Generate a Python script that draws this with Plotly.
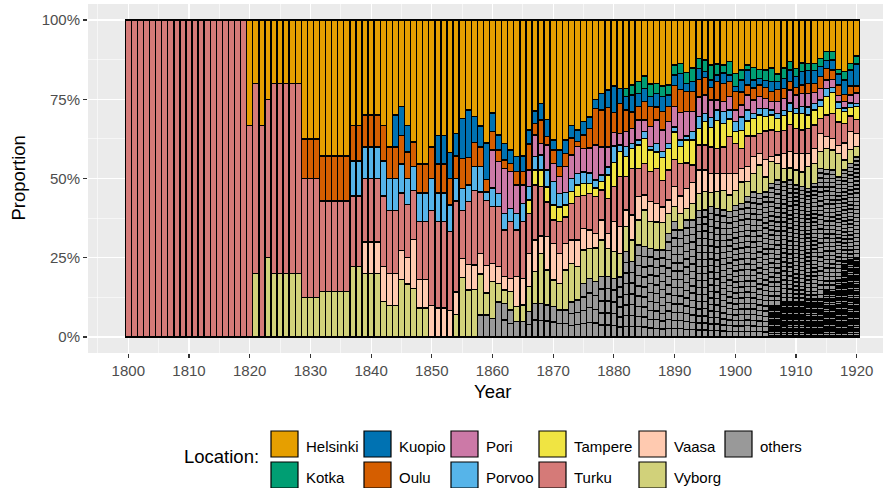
import plotly.graph_objects as go

years = list(range(1800, 1921))

# ---- shares (percent) per year ----
helsinki = [0]*20 + [33.3, 20, 33.3, 25, 20, 20, 20, 20, 20, 37.5, 37.5, 37.5, 42.9, 42.9, 42.9, 42.9, 42.9,
                     33.3, 33.3, 30, 30, 30, 33.3, 40, 30, 27.3, 33.3, 38.5, 45.5, 45.5, 40, 36.4, 36.4, 41.7,
                     35.7, 31, 28.4, 30.5] + \
    [33.4, 38.7, 29.4, 36.3, 38.9, 41.0, 43.1, 42.9, 34.7, 28.7, 26.3, 31.3, 37.9, 41.0, 37.9, 33.4, 34.7, 32.1,
     30.7, 25.0, 23.1, 22.1, 20.8, 21.6, 21.6, 20.5, 19.5, 17.7, 20.2, 20.0, 20.8, 20.5] + \
    [14.2, 13.7, 16.6, 15.2, 12.1, 12.6, 14.2, 13.9, 14.2, 13.1, 16.8, 15.8, 14.2, 15.0, 15.6, 15.8, 15.2, 17.0,
     15.2, 13.1, 15.2, 13.5, 13.7, 13.7, 12.1, 10.0, 10.0, 15.6, 16.3, 13.7, 11.4]

kotka = [0]*20 + [0]*38 + [0]*24 + [2.6, 3.2, 3.7, 3.9, 4.0, 3.2, 3.4, 3.2] + \
    [3.2, 3.2, 3.4, 4.2, 3.2, 3.7, 4.7, 3.5, 2.6, 4.2, 4.2, 3.2, 1.6, 3.9, 2.8, 3.2, 4.2, 2.4, 3.2, 2.6, 2.6,
     2.8, 2.3, 2.3, 2.6, 2.8, 2.6, 1.5, 2.6, 2.1, 2.5]

kuopio = [0]*20 + [0]*24 + [10, 9.1, 8.3, 0, 0, 0, 0, 9.1, 9.1, 8.3, 7.1, 12.6, 14.9, 8.2] + \
    [6.6, 11.5, 5.8, 4.7, 5.3, 4.2, 4.7, 4.9, 4.4, 3.9, 5.3, 5.5, 3.2, 5.3, 4.2, 3.9, 3.7, 4.2, 3.5, 2.8, 5.3,
     5.5, 8.4, 4.7, 4.2, 5.3, 4.2, 4.2, 3.2, 4.2, 4.7, 3.5] + \
    [3.2, 5.0, 2.6, 3.2, 3.5, 1.8, 2.3, 2.1, 3.2, 2.1, 1.6, 3.7, 4.7, 2.6, 2.1, 2.3, 3.2, 2.6, 3.2, 3.7, 3.4,
     4.2, 4.0, 4.0, 3.2, 2.4, 3.2, 3.5, 4.7, 5.0, 6.9]

oulu = [0]*20 + [0]*9 + [12.5]*3 + [14.3]*5 + [11.1]*2 + [10]*3 + \
    [11.1, 10, 10, 9.1, 8.3, 7.7, 9.1, 9.1, 10, 9.1, 9.1, 8.3, 7.1, 9.5, 8.8, 7.6] + \
    [6.3, 4.0, 5.8, 3.7, 2.6, 2.6, 4.2, 4.2, 8.2, 3.7, 7.4, 2.6, 4.2, 3.2, 4.2, 5.3, 1.6, 4.2, 6.3, 11.6, 11.6,
     12.4, 6.3, 9.5, 6.8, 5.3, 4.2, 5.8, 6.3, 4.2, 5.8, 4.9] + \
    [6.6, 7.4, 6.3, 6.3, 5.5, 5.6, 4.0, 5.8, 5.8, 4.7, 5.8, 4.2, 3.2, 3.7, 3.7, 3.5, 3.2, 3.7, 3.2, 2.6, 2.4,
     2.6, 3.2, 2.9, 3.7, 3.7, 2.9, 3.2, 2.1, 2.8, 2.3]

pori = [0]*20 + [0]*38 + \
    [0, 0, 12.1, 10.0, 14.2, 11.6, 8.9, 5.8, 5.3, 6.8, 3.7, 7.9, 5.8, 5.3, 8.2, 7.4, 8.4, 7.4, 7.9, 11.0, 8.9,
     6.3, 4.2, 3.7, 4.7, 4.7, 6.3, 3.7, 6.3, 7.4, 6.8, 6.8] + \
    [6.5, 8.6, 7.7, 6.3, 6.3, 5.8, 5.5, 3.2, 3.2, 4.2, 3.7, 3.7, 4.7, 4.2, 3.7, 3.2, 2.6, 3.7, 3.7, 4.2, 4.2,
     4.2, 4.2, 3.4, 3.7, 2.6, 2.5, 2.1, 2.1, 2.6, 3.2]

porvoo = [0]*20 + [0]*17 + [11.1]*2 + [10]*3 + \
    [11.1, 10, 10, 9.1, 8.3, 7.7, 9.1, 9.1, 10, 9.1, 9.1, 8.3, 7.1, 6.9, 5.2, 7.5] + \
    [7.9, 2.6, 5.8, 4.2, 5.3, 4.2, 5.3, 5.8, 4.2, 4.2, 4.7, 5.3, 7.4, 4.2, 3.9, 4.2, 3.7, 3.7, 3.2, 2.6, 2.1,
     2.6, 5.3, 2.1, 3.2, 1.6, 1.6, 2.1, 1.1, 2.6, 1.8, 1.6] + \
    [1.6, 2.1, 1.3, 2.6, 3.7, 2.6, 3.2, 3.2, 3.7, 2.9, 3.2, 4.2, 3.4, 1.6, 2.1, 2.4, 1.6, 1.6, 1.6, 2.6, 1.6,
     2.1, 2.6, 2.1, 2.1, 2.6, 1.7, 2.1, 1.1, 1.3, 1.1]

tampere = [0]*20 + [0]*38 + [0]*8 + \
    [4.2, 4.7, 5.3, 4.7, 4.7, 4.7, 3.7, 3.7, 3.7, 3.7, 3.2, 2.6, 2.6, 7.4, 7.6, 7.9, 6.3, 6.3, 7.4, 7.9, 6.8,
     5.3, 7.2, 6.8] + \
    [8.7, 5.3, 7.2, 7.9, 5.3, 7.4, 6.1, 8.9, 7.4, 5.5, 3.7, 5.8, 4.8, 5.6, 5.8, 4.6, 4.7, 4.2, 4.7, 4.2, 4.7,
     5.3, 4.2, 4.7, 3.7, 5.8, 6.5, 4.2, 3.7, 2.7, 4.0]

turku = [100]*20 + [66.7, 60, 66.7, 50] + [60]*5 + [37.5]*3 + [28.6]*5 + [22.2]*2 + [20]*3 + \
    [22.2, 20, 20, 18.2, 16.7, 15.4, 18.2, 18.2, 30, 27.3, 27.3, 25, 28.6, 15.2, 19.8, 23.5] + \
    [19.4, 20.5, 17.9, 18.9, 14.7, 17.9, 14.7, 17.9, 12.6, 17.4, 15.6, 11.0, 7.4, 10.0, 8.4, 11.6, 13.7, 10.5,
     11.6, 11.6, 9.5, 11.0, 11.0, 15.8, 10.5, 14.7, 8.9, 10.0, 9.5, 11.0, 8.4, 9.5] + \
    [8.6, 10.3, 8.1, 5.6, 7.9, 7.9, 8.4, 7.9, 8.4, 11.6, 9.5, 6.3, 9.7, 6.5, 6.3, 9.0, 8.4, 7.4, 7.4, 8.4, 7.9,
     7.4, 7.9, 7.4, 4.7, 6.8, 7.9, 7.4, 6.3, 4.9, 4.4]

vaasa = [0]*20 + [0]*19 + [10]*3 + \
    [11.1, 10, 10, 9.1, 8.3, 15.4, 9.1, 9.1, 10, 9.1, 9.1, 8.3, 7.1, 6.0, 8.1, 7.7] + \
    [6.5, 8.7, 5.8, 5.3, 4.2, 4.2, 9.3, 8.4, 10.5, 10.0, 5.5, 10.5, 11.6, 9.5, 8.4, 7.4, 8.4, 6.8, 5.8, 4.7,
     6.3, 4.7, 9.5, 8.4, 5.3, 7.9, 7.4, 4.7, 6.3, 5.8, 5.0, 4.2] + \
    [6.3, 5.5, 6.3, 6.5, 7.4, 6.8, 6.1, 5.8, 5.3, 6.8, 5.3, 4.2, 4.7, 5.3, 3.7, 5.5, 1.6, 2.6, 4.7, 5.3, 5.3,
     5.8, 4.2, 4.7, 5.8, 3.7, 3.7, 2.6, 5.3, 5.8, 4.2]

vyborg = [0]*20 + [0, 20, 0, 25] + [20]*5 + [12.5]*3 + [14.3]*5 + [22.2]*2 + [20]*3 + \
    [11.1, 10, 10, 18.2, 16.7, 15.4, 9.1, 9.1, 0, 0, 0, 0, 7.1, 18.8, 14.8, 15.0] + \
    [13.0, 7.0, 11.6, 5.8, 4.2, 5.8, 4.9, 5.3, 7.9, 10.0, 15.8, 11.0, 8.4, 8.4, 12.6, 12.1, 10.5, 10.5, 9.5,
     10.5, 11.6, 8.9, 8.4, 7.4, 7.9, 6.8, 7.9, 11.6, 8.4, 8.9, 8.6, 6.3] + \
    [4.7, 5.3, 3.7, 5.3, 5.3, 5.8, 4.4, 5.3, 6.3, 5.3, 4.7, 6.8, 4.7, 5.8, 8.9, 4.7, 6.8, 5.3, 4.2, 3.7, 4.7,
     4.7, 6.8, 6.3, 5.3, 6.8, 6.3, 7.4, 3.2, 4.4, 3.2]

# "others": many small locations, each its own grey segment
others_total = [0]*58 + \
    [6.9, 6.9, 5.9, 11.1, 10.6, 8.5, 4.8, 4.8, 8.0, 10.6, 10.6, 10.1, 9.6, 8.5, 8.5, 11.1, 11.7, 16.9, 18.5,
     17.5, 19.0, 19.0, 18.5, 19.0, 26.9, 23.8, 29.0, 28.5, 28.0, 27.4, 27.4, 32.7] + \
    [36.4, 33.8, 36.9, 36.9, 40.1, 40.1, 41.1, 40.6, 40.1, 39.5, 41.6, 42.2, 44.3, 45.8, 45.3, 45.8, 48.5, 49.5,
     49.0, 49.5, 47.9, 47.4, 46.9, 48.5, 53.2, 52.7, 52.7, 50.6, 52.7, 54.6, 56.9]
others_locations = [0]*58 + \
    [1, 1, 1, 1, 2, 2, 1, 1, 2, 2, 2, 2, 2, 2, 2, 3, 3, 4, 4, 4, 5, 5, 5, 6, 8, 7, 9, 9, 10, 10, 11, 12] + \
    [14, 13, 15, 16, 18, 18, 20, 20, 21, 22, 24, 24, 25, 26, 27, 28, 26, 27, 27, 28, 29, 29, 29, 30, 28, 28,
     28, 27, 25, 25, 25]
others_single = [0]*106 + [10, 10, 11, 11, 11, 11, 12, 12, 12, 15, 15, 18, 24, 25, 25]
single_share = 0.55

locations = ["Helsinki", "Kotka", "Kuopio", "Oulu", "Pori", "Porvoo", "Tampere", "Turku", "Vaasa", "Vyborg", "others"]
colors = ["#E69F00", "#009E73", "#0072B2", "#D55E00", "#CC79A7", "#56B4E9", "#F0E442", "#D57A78", "#FFCAB0",
          "#D1D17A", "#999999"]
series = [helsinki, kotka, kuopio, oulu, pori, porvoo, tampere, turku, vaasa, vyborg]

LW = 1.4
fig = go.Figure()

# others segments (bottom of each stack)
segs_per_year = []
for i in range(len(years)):
    segs = []
    d = others_single[i]
    if d > 0:
        m = max(1, round(d / single_share))
        segs += [d / m] * m
    n = others_locations[i]
    if n > 0:
        segs += [(others_total[i] - d) / n] * n
    segs_per_year.append(segs)
maxk = max(len(s) for s in segs_per_year)
for k in range(maxk):
    vals = [s[k] if k < len(s) else None for s in segs_per_year]
    fig.add_trace(go.Bar(x=years, y=vals, marker=dict(color=colors[-1], line=dict(color="black", width=LW)),
                         showlegend=False, hoverinfo="skip"))

# named locations, stacked bottom (Vyborg) to top (Helsinki)
for name, col, vals in reversed(list(zip(locations[:-1], colors[:-1], series))):
    v = [x if x > 0 else None for x in vals]
    fig.add_trace(go.Bar(x=years, y=v, name=name, marker=dict(color=col, line=dict(color="black", width=LW)),
                         showlegend=False))

FONT = "Liberation Sans, Arial, Helvetica, sans-serif"
L, T, W, H = 88, 4, 883, 488
PW, PH = 795, 349

def xp(px):
    return (px - L) / PW

def yp(py):
    return (T + PH - py) / PH

shapes, annos = [], []
# manual legend (two rows, filled column-wise like the original)
key_cols = [270, 363, 450, 538, 638, 724]
rows = [(430, 458, 446), (461, 489, 477.5)]
order = [["Helsinki", "Kotka"], ["Kuopio", "Oulu"], ["Pori", "Porvoo"], ["Tampere", "Turku"],
         ["Vaasa", "Vyborg"], ["others"]]
for cx, names in zip(key_cols, order):
    for r, nm in enumerate(names):
        y0, y1, yc = rows[r]
        col = colors[locations.index(nm)]
        shapes.append(dict(type="rect", xref="paper", yref="paper", x0=xp(cx + 1), x1=xp(cx + 28),
                           y0=yp(y1 - 1), y1=yp(y0 + 1), fillcolor=col, line=dict(color="black", width=1.2)))
        annos.append(dict(text=nm, xref="paper", yref="paper", x=xp(cx + 34), y=yp(yc), xanchor="left",
                          yanchor="middle", showarrow=False, font=dict(family=FONT, size=15, color="black")))
annos.append(dict(text="Location:", xref="paper", yref="paper", x=xp(182), y=yp(456), xanchor="left",
                  yanchor="middle", showarrow=False, font=dict(family=FONT, size=18.5, color="black")))
annos.append(dict(text="Year", xref="paper", yref="paper", x=xp(492), y=yp(391), xanchor="center",
                  yanchor="middle", showarrow=False, font=dict(family=FONT, size=18.5, color="black")))
annos.append(dict(text="Proportion", xref="paper", yref="paper", x=xp(18), y=yp(178.5), xanchor="center",
                  yanchor="middle", textangle=-90, showarrow=False,
                  font=dict(family=FONT, size=18.5, color="black")))

fig.update_layout(
    width=W, height=H, autosize=False,
    margin=dict(l=L, r=0, t=T, b=H - T - PH, pad=0),
    barmode="stack", barnorm="fraction", bargap=0,
    plot_bgcolor="#EBEBEB", paper_bgcolor="white",
    font=dict(family=FONT),
    shapes=shapes, annotations=annos,
    showlegend=False, hovermode=False,
)
fig.update_xaxes(range=[1793.36, 1924.33], tickmode="linear", tick0=1800, dtick=10,
                 ticks="outside", ticklen=4, tickwidth=1.1, tickcolor="#333333",
                 tickfont=dict(family=FONT, size=15, color="#4D4D4D"),
                 showgrid=True, gridcolor="white", gridwidth=1.1, zeroline=False, showline=False,
                 minor=dict(tick0=1795, dtick=10, showgrid=True, gridcolor="white", gridwidth=0.55))
fig.update_yaxes(range=[-0.0505, 1.0505], tickmode="linear", tick0=0, dtick=0.25, tickformat=".0%",
                 ticks="outside", ticklen=4, tickwidth=1.1, tickcolor="#333333",
                 tickfont=dict(family=FONT, size=15, color="#4D4D4D"),
                 showgrid=True, gridcolor="white", gridwidth=1.1, zeroline=False, showline=False,
                 minor=dict(tick0=0.125, dtick=0.25, showgrid=True, gridcolor="white", gridwidth=0.55))

fig.write_html("out.html", config={"displayModeBar": False, "staticPlot": True},
               post_script="document.body.style.margin='0px';document.body.style.overflow='hidden';")
